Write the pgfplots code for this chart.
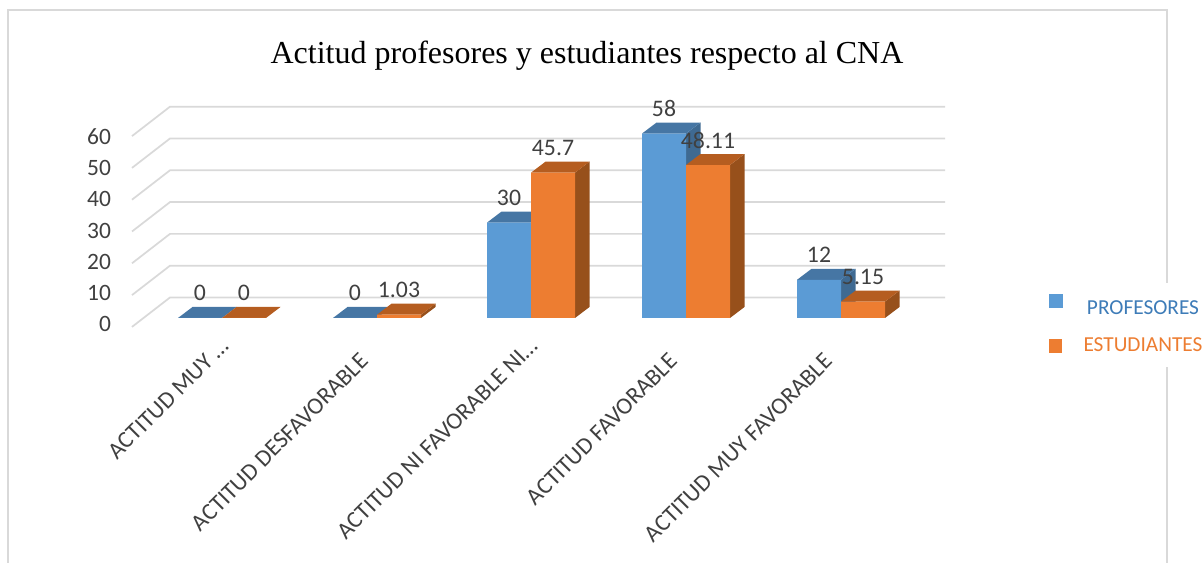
\documentclass[border=0pt]{standalone}
\usepackage{fontspec}
\usepackage{pgfplots}
\pgfplotsset{compat=1.18}
\setmainfont{Carlito}
\newfontfamily\titlefont{Liberation Serif}
\definecolor{gridc}{HTML}{D9D9D9}
\definecolor{blueF}{HTML}{5B9BD5}
\definecolor{blueT}{HTML}{4676A4}
\definecolor{blueS}{HTML}{3F6A92}
\definecolor{orF}{HTML}{ED7D31}
\definecolor{orT}{HTML}{B55D20}
\definecolor{orS}{HTML}{97501B}
\definecolor{txt}{HTML}{404040}
\definecolor{legB}{HTML}{3E7CB8}
\newcommand{\face}[2]{\addplot[fill=#1,draw=none,forget plot] coordinates {#2} --cycle;}
\newcommand{\gridl}[2]{\addplot[gridc,line width=1.3pt,forget plot] coordinates {(132,#1)(170,#2)(945,#2)};}
\begin{document}
\begin{tikzpicture}
\path[use as bounding box] (0,0) rectangle (903pt,422.25pt);
\begin{axis}[
  at={(0,0)},anchor=south west,
  scale only axis,width=903pt,height=422.25pt,
  xmin=0,xmax=1204,ymin=-77.044,ymax=100,
  clip=false,
  axis line style={draw=none},
  major tick length=0pt,
  tick style={draw=none},
  /pgf/number format/assume math mode=true,
  /pgf/number format/fixed,
  /pgf/number format/precision=2,
  ytick={-1.9,7.9,17.7,27.5,37.3,47.1,56.9},
  yticklabels={0,10,20,30,40,50,60},
  yticklabel style={font=\fontsize{17.6}{17.6}\selectfont,text=txt,xshift=86.75pt},
  xtick={222,377,531,686,841},
  xticklabels={ACTITUD MUY …,ACTITUD DESFAVORABLE\kern16pt\null,ACTITUD NI FAVORABLE NI…,ACTITUD FAVORABLE\kern16pt\null,ACTITUD MUY FAVORABLE\kern16pt\null},
  xticklabel style={font=\fontsize{17.8}{17.8}\selectfont,text=txt,rotate=45,anchor=north east,yshift=125pt,xshift=122pt},
  title={\titlefont\fontsize{24}{24}\selectfont Actitud profesores y estudiantes respecto al CNA},
  title style={at={(axis cs:587,83.3)},anchor=center,yshift=-8.25pt},
  every node near coord/.append style={font=\fontsize{17.8}{17.8}\selectfont,text=txt,anchor=center,yshift=18.75pt},
  legend style={at={(axis cs:1127,-2.2)},anchor=center,draw=none,fill=white,inner xsep=3pt,inner ysep=8pt,
    font=\fontsize{16}{16}\selectfont,row sep=12pt},
  legend cell align=center,
]
\draw[gridc,line width=1.3pt] (axis cs:8,-77.044) -- (axis cs:8,96.86) -- (axis cs:1167,96.86) -- (axis cs:1167,-77.044);
\gridl{-2.8}{6.45}
\gridl{7.2}{16.45}
\gridl{17.2}{26.45}
\gridl{27.2}{36.45}
\gridl{37.2}{46.45}
\gridl{47.2}{56.45}
\gridl{57.2}{66.45}
% blue side and top faces
\face{blueS}{(531,0)(545.5,3.46)(545.5,33.46)(531,30)}
\face{blueS}{(686,0)(700.5,3.46)(700.5,61.46)(686,58)}
\face{blueS}{(841,0)(855.5,3.46)(855.5,15.46)(841,12)}
\face{blueT}{(178,0)(222,0)(236.5,3.46)(192.5,3.46)}
\face{blueT}{(333,0)(377,0)(391.5,3.46)(347.5,3.46)}
\face{blueT}{(487,30)(531,30)(545.5,33.46)(501.5,33.46)}
\face{blueT}{(642,58)(686,58)(700.5,61.46)(656.5,61.46)}
\face{blueT}{(797,12)(841,12)(855.5,15.46)(811.5,15.46)}
% orange side and top faces
\face{orS}{(421,0)(435.5,3.46)(435.5,4.49)(421,1.03)}
\face{orS}{(575,0)(589.5,3.46)(589.5,49.16)(575,45.7)}
\face{orS}{(730,0)(744.5,3.46)(744.5,51.57)(730,48.11)}
\face{orS}{(885,0)(899.5,3.46)(899.5,8.61)(885,5.15)}
\face{orT}{(222,0)(266,0)(280.5,3.46)(236.5,3.46)}
\face{orT}{(377,1.03)(421,1.03)(435.5,4.49)(391.5,4.49)}
\face{orT}{(531,45.7)(575,45.7)(589.5,49.16)(545.5,49.16)}
\face{orT}{(686,48.11)(730,48.11)(744.5,51.57)(700.5,51.57)}
\face{orT}{(841,5.15)(885,5.15)(899.5,8.61)(855.5,8.61)}
% front faces
\addplot[ybar,bar width=44,bar shift=-22,fill=blueF,draw=none,nodes near coords,
  nodes near coords style={xshift=-16.5pt},
  legend image code/.code={\fill[blueF] (0pt,0.75pt) rectangle (10.5pt,11.25pt);\path (24pt,0pt);}]
  coordinates {(222,0)(377,0)(531,30)(686,58)(841,12)};
\addlegendentry{\textcolor{legB}{PROFESORES}}
\addplot[ybar,bar width=44,bar shift=22,fill=orF,draw=none,nodes near coords,
  nodes near coords style={xshift=16.5pt},
  legend image code/.code={\fill[orF] (0pt,-5.25pt) rectangle (10pt,5.25pt);\path (24pt,0pt);}]
  coordinates {(222,0)(377,1.03)(531,45.7)(686,48.11)(841,5.15)};
\addlegendentry{\textcolor{orF}{ESTUDIANTES}}
\end{axis}
\end{tikzpicture}
\end{document}
